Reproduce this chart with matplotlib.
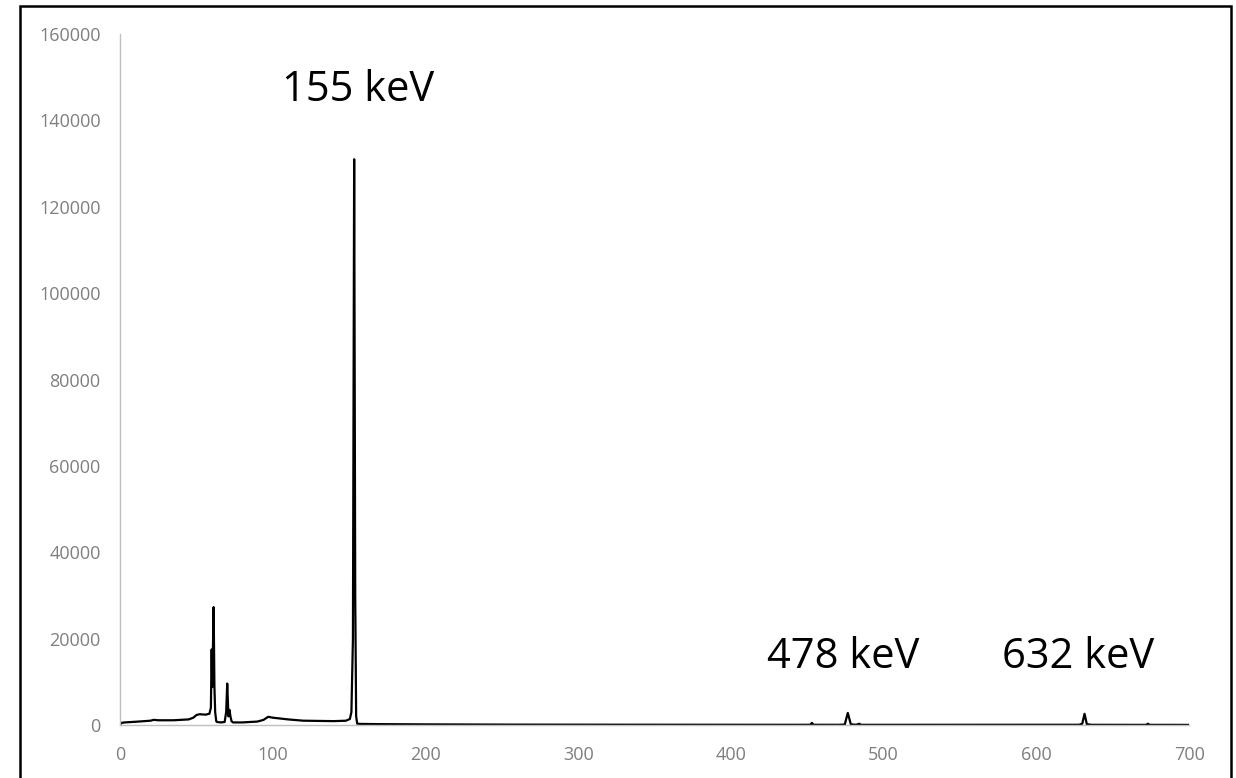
"""
Gamma spectrum with labelled peaks at 155, 478 and 632 keV.
"""

import matplotlib

matplotlib.use("Agg")
import matplotlib.pyplot as plt
from matplotlib.patches import Rectangle

# spectrum (energy in keV, counts)
energy = [
    0, 1, 3, 10, 20, 22, 25, 35, 45, 48, 50, 52, 56, 58.5, 59.5,
    60.0, 60.4, 60.8, 61.3, 61.8, 62.3, 63.0, 63.5, 66, 68.5, 69.5,
    70.2, 71, 71.7, 72.3, 73, 74, 80, 90, 94, 97, 100, 110, 120, 140,
    148, 150.5, 151.5, 152.5, 153.3, 154, 154.6, 155.3, 158, 170, 200,
    250, 300, 400, 440, 452, 453, 454, 470, 474.5, 476.5, 478.5, 482,
    484, 485, 486, 520, 600, 628, 630, 631.5, 633, 636, 660, 672, 673,
    674, 700,
]
counts = [
    0, 500, 600, 750, 1000, 1200, 1100, 1100, 1300, 1700, 2300, 2500,
    2400, 2600, 4000, 17500, 8800, 17000, 27300, 9000, 3000, 900, 700,
    600, 700, 3000, 9600, 2000, 3500, 2000, 900, 600, 600, 800, 1200,
    1900, 1700, 1300, 1000, 900, 1000, 1400, 3000, 20000, 131000, 30000,
    2000, 300, 250, 200, 150, 100, 80, 60, 50, 60, 500, 60, 50, 100,
    2800, 150, 60, 300, 60, 50, 50, 60, 60, 300, 2600, 200, 50, 40, 40,
    300, 40, 30,
]

peak_labels = ["155 keV", "478 keV", "632 keV"]
label_x = [156, 473.5, 627.5]
label_y = [147000, 15700, 15700]

x_ticks = [0, 100, 200, 300, 400, 500, 600, 700]
y_ticks = [0, 20000, 40000, 60000, 80000, 100000, 120000, 140000, 160000]

plt.rcParams["font.family"] = ["Open Sans", "DejaVu Sans"]

fig = plt.figure(figsize=(12.36, 7.78), dpi=100)
ax = fig.add_axes([0.0971, 0.0681, 0.8650, 0.8882])

ax.plot(energy, counts, color="black", linewidth=1.6)

for text, x, y in zip(peak_labels, label_x, label_y):
    ax.text(x, y, text, fontsize=30, ha="center", va="center", color="black")

ax.set_xlim(0, 700)
ax.set_ylim(0, 160000)
ax.set_xticks(x_ticks)
ax.set_yticks(y_ticks)
ax.set_xticklabels([str(t) for t in x_ticks])
ax.set_yticklabels([str(t) for t in y_ticks])
ax.tick_params(axis="both", length=0, labelsize=13, labelcolor="#7f7f7f")
ax.tick_params(axis="y", pad=14)
ax.tick_params(axis="x", pad=15)

for side in ("top", "right"):
    ax.spines[side].set_visible(False)
for side in ("left", "bottom"):
    ax.spines[side].set_color("#bfbfbf")
    ax.spines[side].set_linewidth(1.0)

# outer frame of the chart area (bottom edge runs past the image)
frame = Rectangle(
    (19.5 / 1236, -0.02), (1231 - 19.5) / 1236, 1.02 - 5.5 / 778,
    transform=fig.transFigure, fill=False, edgecolor="black",
    linewidth=1.8, clip_on=False,
)
fig.patches.append(frame)

fig.savefig("out.png", dpi=100)
